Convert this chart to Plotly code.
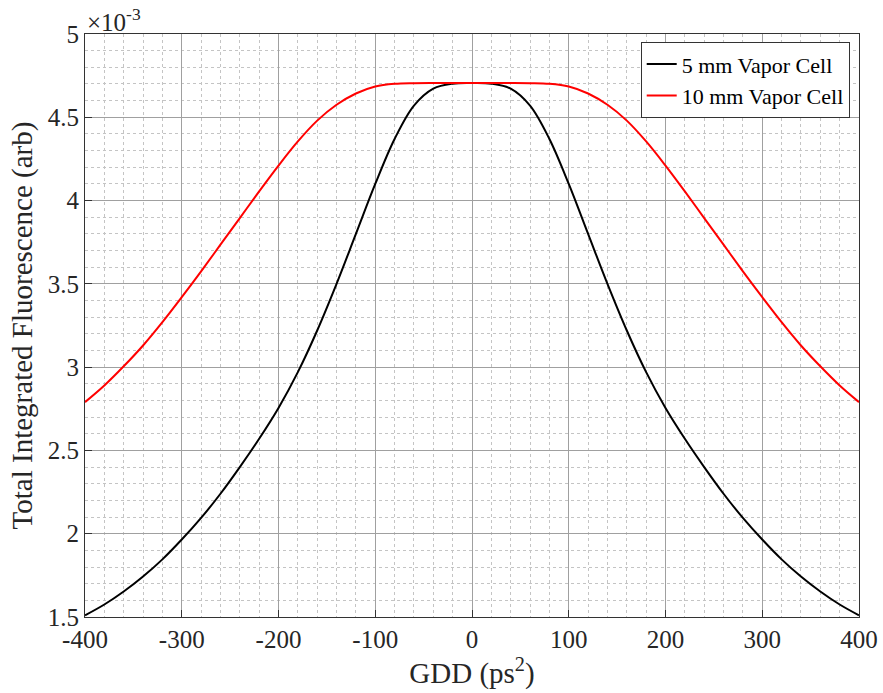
import plotly.graph_objects as go

gdd = [-400, -380, -360, -340, -320, -300, -280, -260, -240, -220, -200, -180, -160, -140, -120,
       -100, -80, -60, -40, -20, 0, 20, 40, 60, 80, 100, 120, 140, 160, 180, 200, 220, 240,
       260, 280, 300, 320, 340, 360, 380, 400]

half_5mm = [1.51, 1.575, 1.653, 1.743, 1.846, 1.965, 2.095, 2.24, 2.40, 2.57, 2.755, 2.97, 3.22,
            3.50, 3.80, 4.10, 4.37, 4.57, 4.672, 4.702, 4.706]
half_10mm = [2.79, 2.89, 3.005, 3.13, 3.27, 3.42, 3.575, 3.735, 3.895, 4.055, 4.21, 4.355, 4.48,
             4.575, 4.643, 4.685, 4.701, 4.705, 4.706, 4.706, 4.706]

fluor_5mm = half_5mm + half_5mm[-2::-1]
fluor_10mm = half_10mm + half_10mm[-2::-1]

x_ticks = [-400, -300, -200, -100, 0, 100, 200, 300, 400]
y_ticks = [1.5, 2, 2.5, 3, 3.5, 4, 4.5, 5]
y_tick_text = ["1.5", "2", "2.5", "3", "3.5", "4", "4.5", "5"]

serif = "Liberation Serif, Times New Roman, serif"

fig = go.Figure()
fig.add_trace(go.Scatter(x=gdd, y=fluor_5mm, mode="lines", name="5 mm Vapor Cell",
                         line=dict(color="black", width=2, shape="spline", smoothing=1.0)))
fig.add_trace(go.Scatter(x=gdd, y=fluor_10mm, mode="lines", name="10 mm Vapor Cell",
                         line=dict(color="#ff0000", width=2, shape="spline", smoothing=1.0)))

axis_common = dict(
    showline=True, mirror=True, linecolor="#333333", linewidth=1,
    ticks="inside", ticklen=7, tickcolor="#333333",
    showgrid=True, gridcolor="#a0a0a0", gridwidth=1,
    zeroline=False, automargin=False,
    tickfont=dict(family=serif, size=25, color="#262626"),
)

fig.update_xaxes(
    range=[-400, 400], tickvals=x_ticks, ticktext=[str(v) for v in x_ticks],
    minor=dict(dtick=20, tick0=0, showgrid=True, gridcolor="#c4c4c4", griddash="dot", ticks=""),
    title=dict(text="GDD (ps<sup>2</sup>)", font=dict(family=serif, size=29, color="#262626"), standoff=2),
    **axis_common,
)
fig.update_yaxes(
    range=[1.5, 5], tickvals=y_ticks, ticktext=y_tick_text,
    minor=dict(dtick=0.1, tick0=0, showgrid=True, gridcolor="#c4c4c4", griddash="dot", ticks=""),
    title=dict(text="Total Integrated Fluorescence (arb)", font=dict(family=serif, size=29, color="#262626"), standoff=6),
    **axis_common,
)

fig.add_annotation(text="×10<sup>-3</sup>", xref="paper", yref="paper", x=0.0, y=1.0,
                   xanchor="left", yanchor="bottom", showarrow=False, yshift=-4,
                   font=dict(family=serif, size=25, color="#262626"))

fig.update_layout(
    width=883, height=693,
    margin=dict(l=85, r=24, t=34, b=76),
    paper_bgcolor="white", plot_bgcolor="white",
    showlegend=True,
    legend=dict(x=0.988, y=0.986, xanchor="right", yanchor="top",
                bgcolor="white", bordercolor="#333333", borderwidth=1,
                font=dict(family=serif, size=22, color="black"),
                tracegroupgap=0, itemwidth=30),
)

fig.write_html("out.html")
